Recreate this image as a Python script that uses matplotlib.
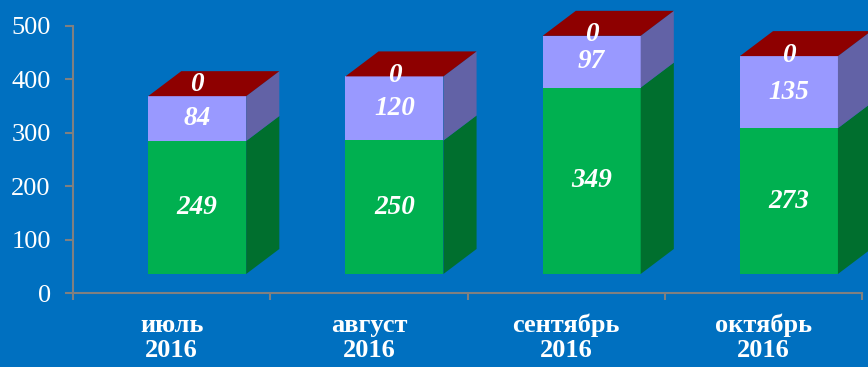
import matplotlib.pyplot as plt
from matplotlib.patches import Polygon

months = ['июль\n2016', 'август\n2016', 'сентябрь\n2016', 'октябрь\n2016']
green_vals = [249, 250, 349, 273]
violet_vals = [84, 120, 97, 135]
red_vals = [0, 0, 0, 0]

BG = '#0070C0'
front_cols = ['#00B050', '#9999FF', '#8B0000']
side_cols = ['#006F2E', '#6262A6', '#5A0000']
top_col = '#8E0000'

plt.rcParams['font.family'] = ['Liberation Serif', 'DejaVu Serif']

fig = plt.figure(figsize=(8.68, 3.67), dpi=100)
fig.patch.set_facecolor(BG)
ax = fig.add_axes([73 / 868, 74 / 367, 789 / 868, 288 / 367])
ax.set_facecolor(BG)

base = 35.6   # front face floor sits above the axis line
off = 0.381   # front face left edge inside each category
w = 0.497     # front face width
dx = 0.168    # depth, x
dy = 46.8     # depth, y (data units)

for i in range(len(months)):
    bottom = base
    series = [green_vals[i], violet_vals[i], red_vals[i]]
    x0 = i + off
    x1 = x0 + w
    for k, v in enumerate(series):
        top = bottom + v
        if v > 0:
            ax.add_patch(Polygon([(x0, bottom), (x1, bottom), (x1, top), (x0, top)],
                                 closed=True, facecolor=front_cols[k], edgecolor='none',
                                 clip_on=False, zorder=3))
            ax.add_patch(Polygon([(x1, bottom), (x1 + dx, bottom + dy),
                                  (x1 + dx, top + dy), (x1, top)],
                                 closed=True, facecolor=side_cols[k], edgecolor='none',
                                 clip_on=False, zorder=3))
        bottom = top
    # top face (zero-height red series)
    ax.add_patch(Polygon([(x0, bottom), (x1, bottom), (x1 + dx, bottom + dy),
                          (x0 + dx, bottom + dy)],
                         closed=True, facecolor=top_col, edgecolor='none',
                         clip_on=False, zorder=3))

    lab = dict(color='white', fontsize=19.5, fontweight='bold', fontstyle='italic',
               ha='center', va='center', zorder=5, clip_on=False)
    cx = x0 + w / 2
    g = green_vals[i]
    p = violet_vals[i]
    ax.text(cx, base + g / 2, str(g), **lab)
    ax.text(cx, base + g + p / 2, str(p), **lab)
    zero_y = base + g + p + (22 if i == 0 else 2)
    ax.text(cx, zero_y, str(red_vals[i]), **lab)

ax.set_xlim(0, 4)
ax.set_ylim(0, 539.3)
ax.set_yticks([0, 100, 200, 300, 400, 500])
ax.set_xticks([0, 1, 2, 3, 4])
ax.set_xticklabels([])
ax.set_xticks([0.5, 1.5, 2.5, 3.5], minor=True)
ax.set_xticklabels(months, minor=True, fontsize=19, fontweight='bold',
                   color='white', linespacing=1.12)
ax.tick_params(axis='x', which='minor', length=0, pad=15)
ax.tick_params(axis='x', which='major', length=5, width=1.5, color='#808080')
ax.tick_params(axis='y', length=6, width=1.5, color='#808080',
               labelcolor='white', labelsize=19, pad=10)

for s in ['top', 'right']:
    ax.spines[s].set_visible(False)
for s in ['left', 'bottom']:
    ax.spines[s].set_color('#808080')
    ax.spines[s].set_linewidth(1.5)
ax.spines['left'].set_bounds(0, 500)

fig.savefig('out.png', dpi=100, facecolor=BG)
